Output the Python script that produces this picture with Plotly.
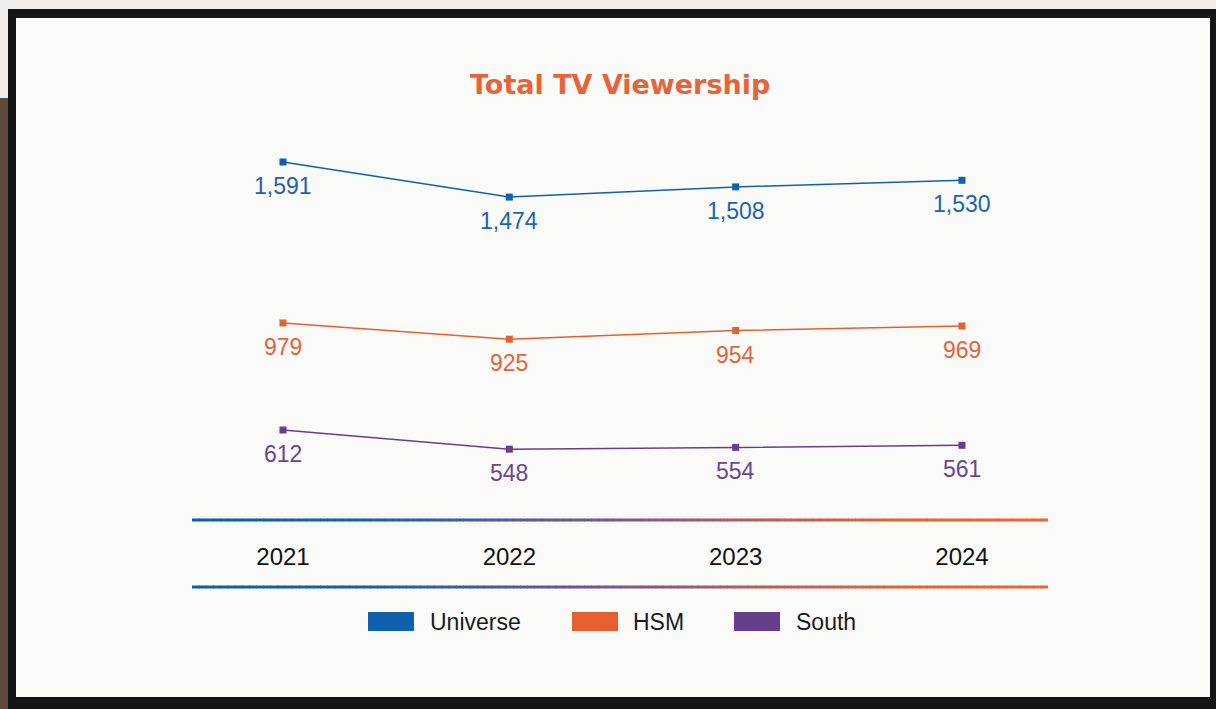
import plotly.graph_objects as go

# ---- data -------------------------------------------------------------
years = [2021, 2022, 2023, 2024]
universe = [1591, 1474, 1508, 1530]
hsm = [979, 925, 954, 969]
south = [612, 548, 554, 561]

series_names = ["Universe", "HSM", "South"]
series_values = [universe, hsm, south]
line_colors = ["#1060ae", "#e4602f", "#663f8c"]
label_colors = ["#1b63ae", "#e4643a", "#6a4690"]
title_text = "Total TV Viewership"

# ---- canvas helpers ---------------------------------------------------
W, H = 1216, 709


def px(x):
    return x / W


def py(y):
    return 1 - y / H


FONT = "Liberation Sans, Arial, sans-serif"

fig = go.Figure()

# each series gets its own y axis sharing the same units-per-pixel scale
axis_ids = ["y", "y2", "y3"]
y_ranges = [[397.7, 1731.0], [322.3, 1655.7], [312.0, 1645.3]]

for name, vals, col, ax in zip(series_names, series_values, line_colors, axis_ids):
    fig.add_trace(go.Scatter(
        x=years, y=vals, name=name, yaxis=ax,
        mode="lines+markers",
        line=dict(color=col, width=1.5),
        marker=dict(symbol="square", size=7, color=col),
        showlegend=False,
        hovertemplate="%{x}: %{y:,}<extra>" + name + "</extra>",
    ))

annotations = []
# value labels under each point
for vals, col, ax in zip(series_values, label_colors, axis_ids):
    for yr, v in zip(years, vals):
        annotations.append(dict(
            x=yr, y=v, xref="x", yref=ax, text=f"{v:,}",
            showarrow=False, yshift=-24, yanchor="middle", xanchor="center",
            font=dict(family=FONT, size=23, color=col),
        ))

# title
annotations.append(dict(
    x=px(620), y=py(84), xref="paper", yref="paper", text=title_text,
    showarrow=False, xanchor="center", yanchor="middle",
    font=dict(family="DejaVu Sans, sans-serif", size=27, color="#e8633a", weight=700),
))

shapes = []
# surroundings and TV frame
shapes.append(dict(type="rect", xref="paper", yref="paper", layer="below",
                   x0=px(0), x1=px(10), y0=py(709), y1=py(98),
                   fillcolor="#5d4b3d", line=dict(width=0)))
shapes.append(dict(type="rect", xref="paper", yref="paper", layer="below",
                   x0=px(8), x1=px(1216), y0=py(709), y1=py(9),
                   fillcolor="#151515", line=dict(width=0)))
shapes.append(dict(type="rect", xref="paper", yref="paper", layer="below",
                   x0=px(16), x1=px(1210), y0=py(697), y1=py(18),
                   fillcolor="#fafaf9", line=dict(width=0)))


# gradient rules above and below the year labels
def mix(c1, c2, t):
    a = [int(c1[i:i + 2], 16) for i in (1, 3, 5)]
    b = [int(c2[i:i + 2], 16) for i in (1, 3, 5)]
    return "#" + "".join(f"{round(a[k] + (b[k] - a[k]) * t):02x}" for k in range(3))


stops = [(0.0, "#0e5fae"), (0.2, "#1560ab"), (0.45, "#6a5890"),
         (0.7, "#c25f55"), (0.85, "#e8642f"), (1.0, "#ec6630")]


def grad(t):
    for (t0, c0), (t1, c1) in zip(stops[:-1], stops[1:]):
        if t <= t1:
            return mix(c0, c1, (t - t0) / (t1 - t0))
    return stops[-1][1]


x_left, x_right = 192, 1048
n_seg = 120
for rule_y in (520, 587):
    for i in range(n_seg):
        xa = x_left + (x_right - x_left) * i / n_seg
        xb = x_left + (x_right - x_left) * (i + 1) / n_seg
        shapes.append(dict(type="line", xref="paper", yref="paper", layer="below",
                           x0=px(xa), x1=px(min(xb + 0.6, x_right)),
                           y0=py(rule_y), y1=py(rule_y),
                           line=dict(color=grad((i + 0.5) / n_seg), width=3)))

# legend swatches and names
legend_rect_x = [368, 572, 734]
legend_text_x = [428, 631, 794]
for name, col, rx, tx in zip(series_names, line_colors, legend_rect_x, legend_text_x):
    shapes.append(dict(type="rect", xref="paper", yref="paper",
                       x0=px(rx), x1=px(rx + 46), y0=py(631), y1=py(612),
                       fillcolor=col, line=dict(width=0)))
    annotations.append(dict(
        x=px(tx), y=py(622), xref="paper", yref="paper", text=name,
        showarrow=False, xanchor="left", yanchor="middle",
        font=dict(family=FONT, size=23, color="#1a1a1a"),
    ))

dom = [py(520), py(120)]
fig.update_layout(
    width=W, height=H, autosize=False,
    margin=dict(l=0, r=0, t=0, b=0),
    paper_bgcolor="#efeeec", plot_bgcolor="rgba(0,0,0,0)",
    showlegend=False,
    xaxis=dict(domain=[px(x_left), px(x_right)], range=[2020.598, 2024.38],
               tickvals=years, ticktext=[str(y) for y in years],
               tickfont=dict(family=FONT, size=24, color="#111111"),
               showgrid=False, zeroline=False, showline=False, ticks="",
               ticklabelstandoff=20),
    yaxis=dict(domain=dom, range=y_ranges[0], visible=False),
    yaxis2=dict(domain=dom, range=y_ranges[1], visible=False, overlaying="y"),
    yaxis3=dict(domain=dom, range=y_ranges[2], visible=False, overlaying="y"),
    shapes=shapes,
    annotations=annotations,
)

fig.write_html("out.html")
